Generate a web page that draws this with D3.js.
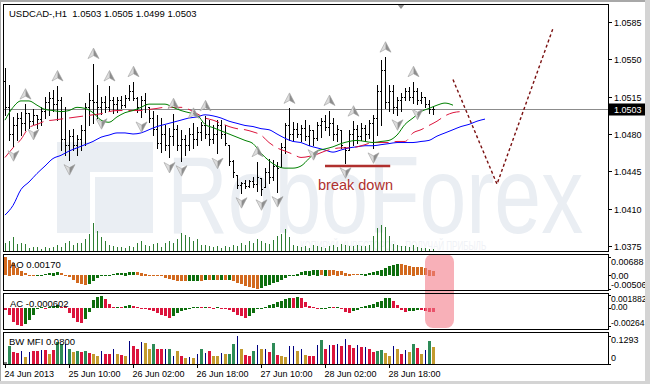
<!DOCTYPE html>
<html>
<head>
<meta charset="utf-8">
<script src="https://cdn.jsdelivr.net/npm/d3@7/dist/d3.min.js"></script>
<style>
  html, body { margin: 0; padding: 0; background: #fff; }
  svg { display: block; }
  text { font-family: "Liberation Sans", Arial, sans-serif; }
</style>
</head>
<body>
<svg id="chart" width="650" height="384"></svg>
<script>
// USDCAD-, H1 bars, 24 Jun 18:00 .. 29 Jun 2013
const opens = [
  1.0530, 1.0505, 1.0480, 1.0488, 1.0495, 1.0490, 1.0500, 1.0492, 1.0498, 1.0494,
  1.0502, 1.0510, 1.0514, 1.0508, 1.0512, 1.0475, 1.0470, 1.0478, 1.0470, 1.0475,
  1.0484, 1.0505, 1.0512, 1.0510, 1.0505, 1.0510, 1.0505, 1.0512, 1.0508, 1.0512,
  1.0507, 1.0514, 1.0520, 1.0514, 1.0505, 1.0512, 1.0505, 1.0495, 1.0485, 1.0472,
  1.0480, 1.0470, 1.0478, 1.0485, 1.0470, 1.0475, 1.0470, 1.0480, 1.0475, 1.0482,
  1.0488, 1.0480, 1.0475, 1.0480, 1.0488, 1.0480, 1.0470, 1.0455, 1.0442, 1.0432,
  1.0434, 1.0431, 1.0436, 1.0433, 1.0439, 1.0430, 1.0444, 1.0440, 1.0450, 1.0449,
  1.0468, 1.0488, 1.0480, 1.0485, 1.0480, 1.0486, 1.0478, 1.0484, 1.0476, 1.0488,
  1.0492, 1.0487, 1.0490, 1.0480, 1.0484, 1.0468, 1.0465, 1.0480, 1.0485, 1.0478,
  1.0486, 1.0480, 1.0490, 1.0495, 1.0520, 1.0540, 1.0510, 1.0520, 1.0505, 1.0512,
  1.0515, 1.0520, 1.0515, 1.0520, 1.0512, 1.0515, 1.0508, 1.0503
];
const highs = [
  1.0542, 1.0526, 1.0496, 1.0500, 1.0501, 1.0508, 1.0500, 1.0503, 1.0498, 1.0505,
  1.0515, 1.0519, 1.0521, 1.0525, 1.0515, 1.0505, 1.0484, 1.0485, 1.0479, 1.0488,
  1.0509, 1.0518, 1.0546, 1.0526, 1.0515, 1.0516, 1.0525, 1.0515, 1.0515, 1.0516,
  1.0517, 1.0526, 1.0529, 1.0515, 1.0516, 1.0518, 1.0505, 1.0502, 1.0498, 1.0495,
  1.0488, 1.0486, 1.0499, 1.0488, 1.0484, 1.0479, 1.0486, 1.0490, 1.0487, 1.0491,
  1.0497, 1.0493, 1.0488, 1.0493, 1.0493, 1.0488, 1.0470, 1.0456, 1.0442, 1.0435,
  1.0437, 1.0437, 1.0440, 1.0454, 1.0439, 1.0448, 1.0457, 1.0456, 1.0454, 1.0472,
  1.0490, 1.0504, 1.0491, 1.0490, 1.0488, 1.0493, 1.0488, 1.0484, 1.0491, 1.0495,
  1.0498, 1.0502, 1.0495, 1.0488, 1.0484, 1.0468, 1.0484, 1.0492, 1.0488, 1.0490,
  1.0488, 1.0493, 1.0498, 1.0526, 1.0549, 1.0552, 1.0526, 1.0526, 1.0515, 1.0518,
  1.0523, 1.0524, 1.0529, 1.0523, 1.0519, 1.0515, 1.0512, 1.0505
];
const lows = [
  1.0498, 1.0474, 1.0469, 1.0474, 1.0479, 1.0484, 1.0486, 1.0489, 1.0486, 1.0488,
  1.0495, 1.0498, 1.0502, 1.0493, 1.0465, 1.0460, 1.0456, 1.0465, 1.0460, 1.0465,
  1.0470, 1.0488, 1.0490, 1.0495, 1.0499, 1.0501, 1.0502, 1.0500, 1.0501, 1.0504,
  1.0505, 1.0512, 1.0512, 1.0501, 1.0496, 1.0501, 1.0491, 1.0479, 1.0467, 1.0463,
  1.0465, 1.0458, 1.0470, 1.0465, 1.0455, 1.0460, 1.0465, 1.0467, 1.0470, 1.0474,
  1.0476, 1.0470, 1.0472, 1.0462, 1.0476, 1.0470, 1.0451, 1.0440, 1.0429, 1.0425,
  1.0429, 1.0430, 1.0430, 1.0427, 1.0423, 1.0430, 1.0434, 1.0437, 1.0426, 1.0449,
  1.0462, 1.0474, 1.0474, 1.0477, 1.0473, 1.0474, 1.0470, 1.0470, 1.0474, 1.0477,
  1.0484, 1.0479, 1.0474, 1.0473, 1.0467, 1.0453, 1.0465, 1.0470, 1.0472, 1.0474,
  1.0473, 1.0476, 1.0467, 1.0479, 1.0488, 1.0504, 1.0502, 1.0500, 1.0498, 1.0502,
  1.0512, 1.0512, 1.0509, 1.0508, 1.0509, 1.0505, 1.0500, 1.0499
];
const closes = [
  1.0505, 1.0480, 1.0488, 1.0495, 1.0490, 1.0500, 1.0492, 1.0498, 1.0494, 1.0502,
  1.0510, 1.0514, 1.0508, 1.0512, 1.0475, 1.0470, 1.0478, 1.0470, 1.0475, 1.0484,
  1.0505, 1.0512, 1.0510, 1.0505, 1.0510, 1.0505, 1.0512, 1.0508, 1.0512, 1.0507,
  1.0514, 1.0520, 1.0514, 1.0505, 1.0512, 1.0508, 1.0495, 1.0485, 1.0472, 1.0480,
  1.0470, 1.0478, 1.0485, 1.0470, 1.0475, 1.0470, 1.0480, 1.0475, 1.0482, 1.0488,
  1.0480, 1.0475, 1.0480, 1.0488, 1.0480, 1.0472, 1.0455, 1.0444, 1.0432, 1.0434,
  1.0431, 1.0436, 1.0433, 1.0440, 1.0428, 1.0444, 1.0440, 1.0450, 1.0448, 1.0468,
  1.0488, 1.0480, 1.0485, 1.0480, 1.0486, 1.0478, 1.0484, 1.0476, 1.0488, 1.0492,
  1.0487, 1.0490, 1.0480, 1.0485, 1.0470, 1.0465, 1.0480, 1.0485, 1.0478, 1.0486,
  1.0480, 1.0490, 1.0495, 1.0520, 1.0540, 1.0510, 1.0520, 1.0505, 1.0512, 1.0515,
  1.0520, 1.0515, 1.0520, 1.0512, 1.0515, 1.0508, 1.0503, 1.0503
];
const volumes = [
  800, 1000, 1400, 700, 800, 700, 300, 400, 400, 200,
  400, 300, 400, 600, 400, 800, 1000, 600, 800, 800,
  1200, 1700, 2800, 2000, 1400, 1000, 600, 500, 400, 400,
  300, 500, 400, 800, 1000, 600, 500, 700, 800, 400,
  800, 1000, 800, 1200, 1800, 1600, 1400, 1000, 1200, 600,
  600, 500, 400, 500, 300, 500, 400, 600, 500, 800,
  600, 1000, 800, 1200, 1000, 800, 700, 1100, 1500, 1700,
  2200, 1400, 600, 500, 400, 500, 300, 600, 500, 400,
  300, 500, 600, 400, 700, 600, 500, 500, 600, 500,
  500, 600, 1500, 2300, 2600, 2400, 1500, 700, 600, 500,
  500, 400, 600, 400, 300, 300, 200, 200
];

// Alligator lines, one point every 2 bars (already shifted forward)
const jaw = [
  1.0404, 1.0413, 1.0428, 1.0435, 1.0443, 1.0450, 1.0457, 1.0460, 1.0464, 1.0467,
  1.0470, 1.0473, 1.0477, 1.0479, 1.0481, 1.0481, 1.0480, 1.0481, 1.0484, 1.0487,
  1.0489, 1.0491, 1.0493, 1.0495, 1.0496, 1.0498, 1.0497, 1.0495, 1.0492, 1.0490,
  1.0488, 1.0487, 1.0485, 1.0484, 1.0480, 1.0476, 1.0473, 1.0472, 1.0469, 1.0467,
  1.0465, 1.0463, 1.0465, 1.0467, 1.0468, 1.0469, 1.0469, 1.0470, 1.0471, 1.0472,
  1.0472, 1.0472, 1.0473, 1.0474, 1.0478, 1.0481, 1.0484, 1.0487, 1.0489, 1.0492, 1.0494
];
const teeth = [
  1.0458, 1.0467, 1.0475, 1.0486, 1.0489, 1.0492, 1.0493, 1.0494, 1.0495, 1.0496,
  1.0497, 1.0498, 1.0499, 1.0501, 1.0502, 1.0502, 1.0502, 1.0502, 1.0503, 1.0504,
  1.0505, 1.0505, 1.0505, 1.0503, 1.0499, 1.0495, 1.0493, 1.0490, 1.0487, 1.0485,
  1.0484, 1.0482, 1.0479, 1.0472, 1.0467, 1.0464, 1.0461, 1.0458, 1.0459, 1.0461,
  1.0464, 1.0466, 1.0467, 1.0467, 1.0468, 1.0470, 1.0472, 1.0472, 1.0472, 1.0473,
  1.0473, 1.0481, 1.0484, 1.0488, 1.0492, 1.0497, 1.0500, 1.0501
];
const lips = [
  1.0493, 1.0505, 1.0511, 1.0511, 1.0507, 1.0503, 1.0502, 1.0501, 1.0502, 1.0505,
  1.0504, 1.0500, 1.0493, 1.0491, 1.0496, 1.0500, 1.0502, 1.0505, 1.0508, 1.0508,
  1.0508, 1.0505, 1.0502, 1.0500, 1.0498, 1.0489, 1.0486, 1.0483, 1.0480, 1.0477,
  1.0474, 1.0471, 1.0462, 1.0455, 1.0450, 1.0448, 1.0448, 1.0450, 1.0457, 1.0464,
  1.0466, 1.0468, 1.0471, 1.0473, 1.0474, 1.0473, 1.0472, 1.0473, 1.0474, 1.0479,
  1.0489, 1.0495, 1.0501, 1.0504, 1.0507, 1.0509, 1.0507
];

// fractals: bar indexes
const upFractals = [5, 13, 22, 26, 32, 42, 47, 50, 63, 71, 81, 87, 95, 102];
const downFractals = [2, 7, 16, 24, 34, 41, 44, 53, 59, 64, 68, 77, 85, 92, 98, 103];

// Awesome Oscillator / Accelerator / BW MFI
const aoValues = [
  0.0068, 0.0058, 0.0045, 0.0027, 0.0017, 0.0008, 0.0003, -0.0001, 0.0001, 0.0003,
  0.0005, 0.0008, 0.0010, 0.0011, 0.0008, 0.0003, -0.0007, -0.0017, -0.0029, -0.0035,
  -0.0038, -0.0032, -0.0022, -0.0012, -0.0003, 0.0002, 0.0003, 0.0005, 0.0008, 0.0009,
  0.0010, 0.0011, 0.0012, 0.0012, 0.0010, 0.0006, 0.0003, 0.0001, -0.0002, -0.0005,
  -0.0010, -0.0015, -0.0018, -0.0021, -0.0023, -0.0024, -0.0023, -0.0022, -0.0021, -0.0021,
  -0.0020, -0.0020, -0.0019, -0.0019, -0.0018, -0.0018, -0.0017, -0.0022, -0.0028, -0.0034,
  -0.0040, -0.0045, -0.0050, -0.0051, -0.0047, -0.0042, -0.0037, -0.0031, -0.0025, -0.0018,
  -0.0011, -0.0005, 0.0001, 0.0006, 0.0011, 0.0015, 0.0018, 0.0020, 0.0021, 0.0020,
  0.0021, 0.0021, 0.0020, 0.0018, 0.0015, 0.0010, 0.0007, 0.0005, 0.0004, 0.0005,
  0.0006, 0.0008, 0.0011, 0.0016, 0.0022, 0.0029, 0.0035, 0.0040, 0.0043, 0.0041,
  0.0038, 0.0035, 0.0032, 0.0030, 0.0030, 0.0026, 0.0022, 0.00170
];
const acValues = [
  -0.0003, -0.0010, -0.0020, -0.0025, -0.0026, -0.0023, -0.0018, -0.0010, -0.0002, 0.0001,
  0.0000, 0.0002, 0.0003, 0.0004, 0.0002, 0.0001, -0.0008, -0.0015, -0.0020, -0.0022,
  -0.0016, -0.0006, 0.0012, 0.0016, 0.0018, 0.0013, 0.0006, 0.0001, 0.0002, 0.0001,
  0.0003, 0.0004, 0.0003, 0.0002, 0.0000, -0.0001, -0.0003, -0.0005, -0.0008, -0.0010,
  -0.0012, -0.0014, -0.0011, -0.0008, -0.0005, -0.0003, -0.0001, 0.0001, 0.0002, 0.0001,
  0.0002, 0.0001, 0.0000, 0.0001, 0.0000, -0.0001, -0.0003, -0.0006, -0.0010, -0.0012,
  -0.0014, -0.0011, -0.0007, -0.0002, 0.0000, 0.0002, 0.0004, 0.0006, 0.0008, 0.0010,
  0.0013, 0.0015, 0.0014, 0.0016, 0.0014, 0.0008, 0.0003, 0.0001, -0.0002, -0.0001,
  0.0000, 0.0002, 0.0001, 0.0002, -0.0002, -0.0006, -0.0008, -0.0005, -0.0003, 0.0001,
  0.0003, 0.0004, 0.0006, 0.0008, 0.0010, 0.0014, 0.0015, 0.0010, 0.0004, -0.0003,
  -0.0006, -0.0005, -0.0004, -0.0003, -0.0003, -0.0004, -0.0006, -0.000602
];
const mfiValues = [
  0.010, 0.083, 0.055, 0.050, 0.058, 0.034, 0.055, 0.058, 0.058, 0.063,
  0.063, 0.047, 0.063, 0.102, 0.094, 0.094, 0.071, 0.055, 0.058, 0.055,
  0.058, 0.052, 0.047, 0.036, 0.058, 0.047, 0.047, 0.067, 0.047, 0.042,
  0.039, 0.105, 0.083, 0.067, 0.102, 0.099, 0.067, 0.094, 0.067, 0.067,
  0.067, 0.071, 0.039, 0.058, 0.039, 0.028, 0.031, 0.028, 0.044, 0.071,
  0.052, 0.058, 0.039, 0.039, 0.052, 0.044, 0.047, 0.094, 0.128, 0.067,
  0.042, 0.039, 0.058, 0.086, 0.067, 0.067, 0.055, 0.099, 0.042, 0.039,
  0.031, 0.083, 0.083, 0.058, 0.067, 0.042, 0.039, 0.039, 0.086, 0.110,
  0.071, 0.086, 0.086, 0.094, 0.083, 0.114, 0.086, 0.074, 0.089, 0.078,
  0.078, 0.067, 0.055, 0.060, 0.063, 0.050, 0.039, 0.083, 0.067, 0.047,
  0.063, 0.055, 0.091, 0.075, 0.047, 0.063, 0.107, 0.0800
];
// g = green, r = squat, y = gold, n = fake (navy), k = first bar
const mfiKinds = (
  'kgrrnynrrn' + 'ryrggngygr' + 'gryynrrnyr' + 'ynrrnyygrr' + 'ngnyrynyng' +
  'nryynyggny' + 'rrgnynrgry' + 'ynnynyrrng' + 'rnrnrnrrnr' + 'nrrggyynyr' + 'nygryngy'
).split('');

// axes
const priceTicks = [1.0585, 1.0550, 1.0515, 1.0480, 1.0445, 1.0410, 1.0375];
const aoTicks = [0.00688, 0, -0.00506];
const acTicks = [0.001882, 0, -0.00264];
const mfiTicks = [0.1293, 0];
const timeIdx = [0, 16, 32, 48, 64, 80, 96];
const timeLabels = ['24 Jun 2013', '25 Jun 10:00', '26 Jun 02:00', '26 Jun 18:00',
  '27 Jun 10:00', '28 Jun 02:00', '28 Jun 18:00'];

// annotations
const forecastIdx = [112, 123, 137];
const forecastPrice = [1.0531, 1.0433, 1.0579];
const breakIdx = [80, 96.3];
const breakPrice = 1.0450;
const highlightIdx = [105, 112.25];

const svg = d3.select('#chart');
const N = closes.length;

const x = d3.scaleLinear().domain([0, N - 1]).range([5, 433]);
const y = d3.scaleLinear().domain([1.0375, 1.0585]).range([246, 22]);
const yVol = d3.scaleLinear().domain([0, 2800]).range([251, 223]);
const yAO = d3.scaleLinear().domain([-0.00506, 0.00688]).range([289, 257]);
const yAC = d3.scaleLinear().domain([-0.00264, 0.001882]).range([326, 295]);
const yMFI = d3.scaleLinear().domain([0, 0.1293]).range([364, 336]);

const px = (i) => Math.round(x(i));
const py = (v) => Math.round(y(v));

// window
svg.append('rect').attr('width', 650).attr('height', 384).attr('fill', '#fff');
svg.append('rect').attr('x', 0).attr('y', 0).attr('width', 650).attr('height', 2).attr('fill', '#a8a8a8');
svg.append('rect').attr('x', 0).attr('y', 0).attr('width', 1).attr('height', 384).attr('fill', '#a8a8a8');
svg.append('rect').attr('x', 0).attr('y', 381).attr('width', 650).attr('height', 3).attr('fill', '#d4d4d4');

const defs = svg.append('defs');
defs.append('clipPath').attr('id', 'mainClip')
  .append('rect').attr('x', 4).attr('y', 5).attr('width', 604).attr('height', 246);

const main = svg.append('g').attr('clip-path', 'url(#mainClip)');

// watermark (scaled horizontally to the logo width)
const wm = main.append('g').attr('fill', '#eaeef3');
wm.append('path').attr('d', 'M57,142H153V172H90V233H57Z');
wm.append('path').attr('d', 'M95,177H153V233H95Z');
wm.append('text').attr('transform', 'translate(167,233) scale(0.765,1)')
  .attr('font-size', 110)
  .text('RoboForex');
wm.append('text').attr('transform', 'translate(300,250) scale(0.62,1)').attr('fill', '#f0f2f6')
  .attr('font-size', 13)
  .text('КОПИРУЙ ИНВЕСТОРОВ – ПОЛУЧАЙ ПРИБЫЛЬ');

// volumes
main.append('g').selectAll('rect').data(volumes).join('rect')
  .attr('x', (d, i) => px(i)).attr('width', 1)
  .attr('y', (d) => Math.round(yVol(d)))
  .attr('height', (d) => 251 - Math.round(yVol(d)))
  .attr('fill', '#2e7d32');

// current price line
const lastY = py(closes[N - 1]) + 0.5;
main.append('line').attr('x1', 4).attr('x2', 608).attr('y1', lastY).attr('y2', lastY)
  .attr('stroke', '#8c8c8c');

// bars
const bars = main.append('g').attr('fill', '#000');
closes.forEach((c, i) => {
  const bx = px(i);
  const top = py(highs[i]);
  const bot = py(lows[i]);
  bars.append('rect').attr('x', bx).attr('y', top).attr('width', 1).attr('height', bot - top + 1);
  bars.append('rect').attr('x', bx - 1).attr('y', py(opens[i])).attr('width', 1).attr('height', 1);
  bars.append('rect').attr('x', bx + 1).attr('y', py(c)).attr('width', 1).attr('height', 1);
});

// alligator
const alligator = (vals) => d3.line()
  .x((d, k) => x(2 * k))
  .y((d) => y(d))
  .curve(d3.curveMonotoneX)(vals);
main.append('path').attr('d', alligator(jaw)).attr('fill', 'none').attr('stroke', '#0000ff');
main.append('path').attr('d', alligator(teeth)).attr('fill', 'none').attr('stroke', '#dc143c')
  .attr('stroke-dasharray', '14,6');
main.append('path').attr('d', alligator(lips)).attr('fill', 'none').attr('stroke', '#008000');

// fractal arrows
const drawArrow = (g, cx, cy, dir) => {
  const a = g.append('g').attr('transform', `translate(${cx},${cy}) scale(1,${dir})`);
  a.append('path').attr('d', 'M0,-5.5L-5.5,5L0,2Z').attr('fill', '#dcdcdc');
  a.append('path').attr('d', 'M0,-5.5L5.5,5L0,2Z').attr('fill', '#8e8e8e');
  a.append('path').attr('d', 'M0,-5.5L5.5,5L0,2L-5.5,5Z').attr('fill', 'none')
    .attr('stroke', '#a0a0a0').attr('stroke-width', 0.6);
};
const arrows = main.append('g');
upFractals.forEach((i) => drawArrow(arrows, x(i) + 0.5, y(highs[i]) - 10, 1));
downFractals.forEach((i) => drawArrow(arrows, x(i) + 0.5, y(lows[i]) + 10, -1));

// break down mark
main.append('line')
  .attr('x1', x(breakIdx[0])).attr('x2', x(breakIdx[1]))
  .attr('y1', y(breakPrice)).attr('y2', y(breakPrice))
  .attr('stroke', '#b0302e').attr('stroke-width', 2.5);
main.append('text')
  .attr('x', x(breakIdx[0]) - 7).attr('y', y(breakPrice) + 24)
  .attr('font-size', 14.5).attr('fill', '#b0302e')
  .text('break down');

// forecast
main.append('path')
  .attr('d', d3.line().x((d) => x(d)).y((d, k) => y(forecastPrice[k]))(forecastIdx))
  .attr('fill', 'none').attr('stroke', '#7a1010').attr('stroke-width', 1.4)
  .attr('stroke-dasharray', '3,2.5');

// shift marker
svg.append('path').attr('d', `M${px(99) - 4},4H${px(99) + 4}L${px(99)},9Z`).attr('fill', '#909090');

// ---- sub panels ----
const upColor = '#0d6e0d';
const aoDown = '#d2691e';
const acDown = '#dc143c';

const histo = (data, scale, downColor) => {
  const g = svg.append('g');
  g.selectAll('rect').data(data).join('rect')
    .attr('x', (d, i) => px(i) - 1).attr('width', 3)
    .attr('y', (d) => Math.round(Math.min(scale(d), scale(0))))
    .attr('height', (d) => Math.max(1, Math.round(Math.abs(scale(d) - scale(0)))))
    .attr('fill', (d, i) => (i > 0 && d > data[i - 1] ? upColor : downColor));
};
histo(aoValues, yAO, aoDown);
histo(acValues, yAC, acDown);

const mfiColor = { g: '#2e8b57', r: '#dc143c', y: '#c39a2e', n: '#000080', k: '#808080' };
svg.append('g').selectAll('rect').data(mfiValues).join('rect')
  .attr('x', (d, i) => (mfiKinds[i] === 'n' ? px(i) : px(i) - 1))
  .attr('width', (d, i) => (mfiKinds[i] === 'n' ? 1 : 3))
  .attr('y', (d) => Math.round(yMFI(d)))
  .attr('height', (d) => 364 - Math.round(yMFI(d)))
  .attr('fill', (d, i) => mfiColor[mfiKinds[i]]);

// highlight box over AO / AC
svg.append('rect')
  .attr('x', x(highlightIdx[0])).attr('y', 254)
  .attr('width', x(highlightIdx[1]) - x(highlightIdx[0])).attr('height', 74)
  .attr('rx', 8).attr('fill', '#f47c88').attr('opacity', 0.6);

// frames
const frames = [[4.5, 247], [254.5, 36], [293.5, 36], [332.5, 32]];
frames.forEach(([fy, fh]) => {
  svg.append('rect').attr('x', 3.5).attr('y', fy).attr('width', 605).attr('height', fh)
    .attr('fill', 'none').attr('stroke', '#000');
});

// right price axis
const axisG = svg.append('g').attr('font-size', 9).attr('fill', '#000');
priceTicks.forEach((p) => {
  const ty = py(p) + 0.5;
  axisG.append('line').attr('x1', 609).attr('x2', 612).attr('y1', ty).attr('y2', ty).attr('stroke', '#000');
  axisG.append('text').attr('x', 614).attr('y', ty + 3.3).text(p.toFixed(4));
});
axisG.append('rect').attr('x', 609).attr('y', lastY - 6).attr('width', 36).attr('height', 12).attr('fill', '#000');
axisG.append('text').attr('x', 614).attr('y', lastY + 3.3).attr('fill', '#fff').text(closes[N - 1].toFixed(4));

const subAxis = (ticks, scale, offsets, fmt, size) => {
  ticks.forEach((v, k) => {
    const ty = Math.round(scale(v)) + 0.5;
    axisG.append('line').attr('x1', 609).attr('x2', 611).attr('y1', ty).attr('y2', ty).attr('stroke', '#000');
    axisG.append('text').attr('x', 611).attr('y', ty + offsets[k] + 3.3)
      .attr('font-size', size).text(fmt(v));
  });
};
subAxis(aoTicks, yAO, [4, 0, -4.5], (v) => (v === 0 ? '0.00' : String(v)), 9);
subAxis(acTicks, yAC, [3, -1.5, -3.7], (v) => (v === 0 ? '0.00' : String(v)), 8.5);
subAxis(mfiTicks, yMFI, [3.3, -6.5], (v) => String(v), 9);

// time axis
timeIdx.forEach((i, k) => {
  const tx = px(i) + 0.5;
  axisG.append('line').attr('x1', tx).attr('x2', tx).attr('y1', 364.5).attr('y2', 368).attr('stroke', '#000');
  axisG.append('text').attr('x', tx - 1).attr('y', 376.5).text(timeLabels[k]);
});

// titles
const lab = svg.append('g').attr('font-size', 9.5).attr('fill', '#000');
lab.append('text').attr('x', 9).attr('y', 16.5).attr('xml:space', 'preserve')
  .text(`USDCAD-,H1  ${opens[N - 1].toFixed(4)} ${highs[N - 1].toFixed(4)} ${lows[N - 1].toFixed(4)} ${closes[N - 1].toFixed(4)}`);
lab.append('text').attr('x', 10).attr('y', 267.5).text(`AO ${aoValues[N - 1].toFixed(5)}`);
lab.append('text').attr('x', 10).attr('y', 306.5).text(`AC ${acValues[N - 1].toFixed(6)}`);
lab.append('text').attr('x', 9).attr('y', 345).text(`BW MFI ${mfiValues[N - 1].toFixed(4)}`);

// window edge on the right (clips the long labels like the terminal does)
svg.append('rect').attr('x', 645).attr('y', 0).attr('width', 5).attr('height', 384).attr('fill', '#d4d4d4');
</script>
</body>
</html>
